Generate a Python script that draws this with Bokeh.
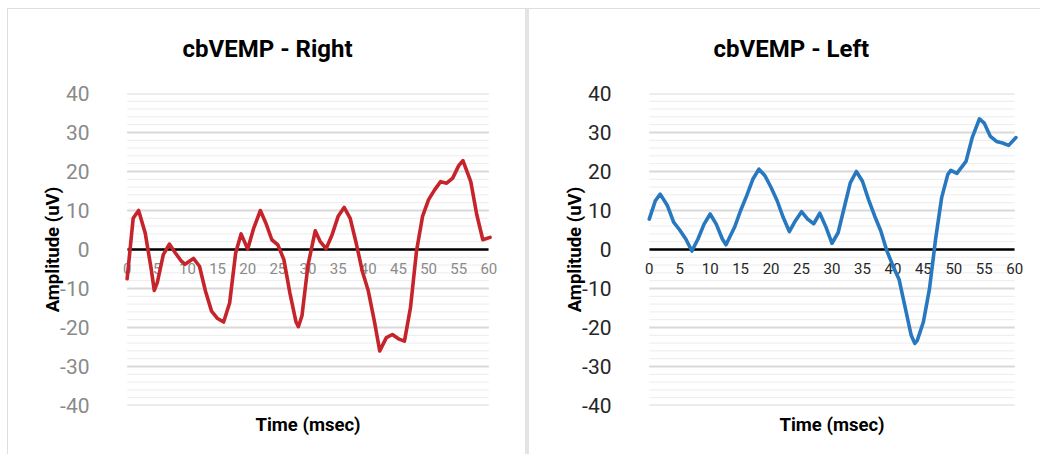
from bokeh.plotting import figure
from bokeh.layouts import row
from bokeh.models import FixedTicker, Range1d, Title, PrintfTickFormatter
from bokeh.embed import file_html
from bokeh.resources import INLINE

# ---- data ----
time_right = [0, 1, 1.9, 3, 4, 4.5, 5, 6, 7, 8, 9, 9.6, 11, 12, 13, 14, 15, 16, 17, 18, 18.9,
              20, 21, 22.1, 23, 24, 25, 26, 27, 28, 28.4, 29, 30, 31.2, 32, 33, 34, 35, 36, 37,
              38, 39, 40, 41, 41.9, 43, 44, 45, 46, 47, 48, 49, 50, 51, 52, 53, 54, 55, 55.7,
              57, 58, 59, 60.2]
amp_right = [-7.5, 8, 10, 4.2, -5.1, -10.5, -8.5, -1.3, 1.4, -0.9, -3, -3.8, -2.3, -4.3, -10.7,
             -15.8, -17.7, -18.6, -13.7, -0.9, 4, 0.1, 5.5, 10, 6.8, 2.5, 1.2, -2.6, -11.2, -18.5,
             -19.8, -17, -4, 4.8, 2.1, 0.2, 3.8, 8.5, 10.8, 8, 1.6, -5.5, -10.6, -18.3, -26,
             -22.6, -21.8, -22.9, -23.5, -14.9, -0.4, 8.5, 12.8, 15.3, 17.4, 17, 18.3, 21.5,
             22.8, 17.4, 8.9, 2.5, 3.1]

time_left = [0, 1, 1.8, 3, 4, 5, 6, 7, 8, 9, 10, 11, 12, 12.6, 14, 15, 16, 17, 18, 19, 20, 21,
             22, 23, 24, 25, 26, 27, 28, 29, 30, 31, 32, 33, 34, 35, 36, 37, 38, 39, 40, 41, 42,
             43, 43.6, 44, 45, 46, 47, 48, 49, 49.5, 50.5, 52, 53, 54.2, 55, 56, 57, 58, 59, 60.2]
amp_left = [7.8, 12.5, 14.2, 11.2, 7, 5, 2.7, -0.4, 2.7, 6.5, 9.1, 6.5, 2.7, 1.2, 5.7, 10, 13.8,
            18, 20.6, 18.9, 15.9, 12.5, 8.2, 4.6, 7.4, 9.7, 7.8, 6.6, 9.3, 5.8, 1.6, 4.3, 10.7,
            17.1, 20, 17.5, 12.8, 8.6, 4.8, -0.3, -4.2, -7.6, -14.8, -22, -24.1, -23.3, -18.6,
            -10.1, 2.6, 13.3, 19.2, 20.3, 19.5, 22.6, 28.6, 33.5, 32.4, 29, 27.7, 27.3, 26.7,
            28.7]

x_ticks = [0, 5, 10, 15, 20, 25, 30, 35, 40, 45, 50, 55, 60]
y_ticks = [-40, -30, -20, -10, 0, 10, 20, 30, 40]
y_minor = [v for v in range(-40, 41, 2) if v % 10 != 0]
x_min, x_max = 0, 60

x_axis_title = "Time (msec)"
y_axis_title = "Amplitude (uV)"
titles = ["cbVEMP - Right", "cbVEMP - Left"]

FONT = "Roboto"
BORDER = "#dedede"


def make_panel(title, xs, ys, color, label_color, width, bl, br, title_offset):
    p = figure(width=width, height=454, output_backend="svg", toolbar_location=None,
               x_range=Range1d(x_min - 1.6, x_max + 1.6), y_range=Range1d(-40, 40),
               min_border_left=bl, min_border_right=br, min_border_top=93,
               min_border_bottom=49)
    p.outline_line_color = None
    p.background_fill_color = "white"
    p.border_fill_color = None
    p.xgrid.visible = False
    p.ygrid.visible = False

    # horizontal grid lines spanning 0..60
    p.segment(x0=x_min, x1=x_max, y0=y_minor, y1=y_minor, line_color="#ececec",
              line_width=1, level="underlay")
    p.segment(x0=x_min, x1=x_max, y0=y_ticks, y1=y_ticks, line_color="#d9d9d9",
              line_width=2, level="underlay")

    # y axis
    yax = p.yaxis[0]
    yax.ticker = FixedTicker(ticks=y_ticks)
    yax.formatter = PrintfTickFormatter(format="%d")
    yax.axis_line_color = None
    yax.major_tick_line_color = None
    yax.minor_tick_line_color = None
    yax.major_label_text_font = FONT
    yax.major_label_text_font_size = "21px"
    yax.major_label_text_color = label_color
    yax.major_label_standoff = 22
    yax.axis_label = y_axis_title
    yax.axis_label_text_font = FONT
    yax.axis_label_text_font_style = "bold"
    yax.axis_label_text_font_size = "18.5px"
    yax.axis_label_text_color = "black"
    yax.axis_label_standoff = -7

    # x axis crossing at zero
    xax = p.xaxis[0]
    xax.fixed_location = 0
    xax.bounds = (x_min, x_max)
    xax.ticker = FixedTicker(ticks=x_ticks)
    xax.formatter = PrintfTickFormatter(format="%d")
    xax.axis_line_color = "black"
    xax.axis_line_width = 2.5
    xax.major_tick_line_color = None
    xax.minor_tick_line_color = None
    xax.major_label_text_font = FONT
    xax.major_label_text_font_size = "15px"
    xax.major_label_text_color = label_color
    xax.major_label_standoff = 7

    r = p.line(xs, ys, line_color=color, line_width=3.6, line_join="round", line_cap="round")
    r.level = "overlay"

    p.add_layout(Title(text=title, align="left", offset=title_offset, standoff=62,
                       text_font=FONT, text_font_style="bold", text_font_size="24px",
                       text_color="black"), "above")
    p.add_layout(Title(text=x_axis_title, align="center", standoff=12,
                       text_font=FONT, text_font_style="bold", text_font_size="18.5px",
                       text_color="black"), "below")
    return p


p1 = make_panel(titles[0], time_right, amp_right, "#c6242b", "#8a8a8a", 525, 117, 27, 65)
p2 = make_panel(titles[1], time_left, amp_left, "#2878c0", "#262626", 515, 114, 16, 74)

line_img = f"linear-gradient({BORDER}, {BORDER})"
p1.styles = {"background": f"{line_img} 7px 8px / 100% 1px no-repeat, "
                           f"{line_img} 7px 8px / 1px 100% no-repeat, white"}
p2.styles = {"background": f"{line_img} 0px 8px / 100% 1px no-repeat, "
                           "linear-gradient(#e4e4e4, #e4e4e4) 0px 8px / 4px 100% no-repeat, white"}

layout = row(p1, p2)
open("out.html", "w").write(file_html(layout, INLINE))
